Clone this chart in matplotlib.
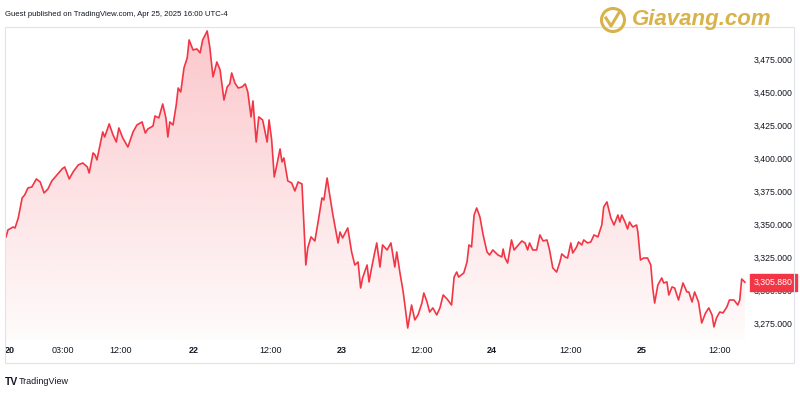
import numpy as np
import matplotlib
matplotlib.use("Agg")
import matplotlib.pyplot as plt
from matplotlib.patches import Rectangle, Ellipse, Polygon
from matplotlib.lines import Line2D
from matplotlib.ticker import FuncFormatter

plt.rcParams['font.family'] = ['Liberation Sans', 'DejaVu Sans']

# gold price, trading hours since session open (Apr 20 - Apr 25, 2025)
hours = [0.0, 0.3, 1.1, 1.4, 1.9, 2.5, 2.9, 3.4, 4.0, 4.7, 5.3, 5.9, 6.5, 7.1, 7.9, 8.7, 9.1, 9.8,
         10.4, 11.2, 11.9, 12.6, 12.9, 13.5, 13.8, 14.1, 15.0, 15.3, 16.0, 16.6, 17.1, 17.5, 18.1,
         18.9, 19.7, 20.3, 21.1, 21.6, 22.0, 22.8, 23.1, 23.7, 24.3, 24.8, 25.1, 25.4, 25.9, 26.4,
         26.7, 27.1, 27.6, 28.1, 28.4, 29.0, 29.6, 30.1, 30.5, 31.2, 31.6, 32.1, 32.7, 33.2, 33.8,
         34.3, 34.7, 35.0, 35.5, 36.0, 36.6, 37.1, 37.5, 38.0, 38.3, 38.8, 39.2, 39.8, 40.5, 40.8,
         41.2, 41.6, 42.0, 42.5, 42.8, 43.1, 43.7, 44.3, 44.8, 45.3, 45.9, 46.5, 46.8, 47.3, 47.9,
         48.4, 49.0, 49.3, 49.8, 50.2, 50.7, 51.5, 51.8, 52.2, 53.0, 53.6, 54.1, 54.6, 55.0, 55.3,
         56.0, 56.3, 56.7, 57.2, 57.5, 58.0, 58.4, 59.1, 59.7, 60.3, 60.6, 61.1, 61.6, 62.0, 62.3,
         62.9, 63.4, 63.9, 64.5, 64.8, 65.3, 65.7, 66.2, 66.8, 67.3, 67.8, 68.4, 69.1, 69.5, 69.9,
         70.2, 71.0, 71.5, 71.8, 72.2, 72.6, 73.0, 73.5, 74.0, 74.6, 75.0, 75.5, 76.3, 76.9, 77.1,
         77.4, 77.8, 78.4, 78.8, 79.2, 80.0, 80.5, 80.9, 81.2, 81.7, 82.3, 82.8, 83.3, 83.9, 84.3,
         84.8, 85.4, 85.9, 86.2, 86.7, 87.1, 87.6, 87.9, 88.5, 88.8, 89.3, 89.6, 90.2, 90.7, 91.2,
         91.8, 92.4, 92.7, 93.2, 93.8, 94.3, 94.9, 95.2, 95.5, 96.0, 96.4, 96.7, 97.2, 97.8, 98.0,
         98.4, 98.9, 99.5, 100.0, 100.3, 100.6, 101.1, 101.7, 102.0, 102.5, 102.8, 103.3, 103.7,
         104.3, 105.0, 105.6, 105.9, 106.4, 106.8, 107.4, 107.9, 108.5, 109.0, 109.5, 109.8, 110.2,
         110.7, 111.2, 111.8, 112.2, 112.9, 113.5, 113.8, 114.1, 114.6]
prices = [3340.2, 3345.5, 3347.7, 3347.0, 3354.6, 3369.7, 3372.0, 3377.3, 3378.0, 3384.1, 3381.8,
          3373.5, 3376.5, 3382.6, 3387.1, 3391.7, 3393.2, 3384.1, 3389.4, 3394.7, 3396.2, 3393.2,
          3388.6, 3403.8, 3402.3, 3398.5, 3419.7, 3415.9, 3425.8, 3417.4, 3412.1, 3422.7, 3415.2,
          3408.3, 3419.7, 3425.0, 3427.3, 3418.9, 3422.0, 3424.2, 3431.8, 3430.3, 3440.9, 3430.3,
          3415.9, 3427.3, 3425.0, 3440.2, 3453.0, 3450.0, 3468.2, 3475.8, 3489.4, 3481.8, 3482.6,
          3479.6, 3489.4, 3496.2, 3484.1, 3461.4, 3472.7, 3466.7, 3443.9, 3453.8, 3456.1, 3464.4,
          3456.8, 3453.0, 3453.8, 3456.1, 3450.0, 3431.1, 3443.2, 3412.1, 3431.1, 3428.8, 3412.1,
          3428.8, 3413.6, 3385.6, 3394.7, 3406.8, 3397.0, 3400.0, 3382.6, 3381.1, 3375.0, 3381.8,
          3380.3, 3318.9, 3331.8, 3340.2, 3337.1, 3351.5, 3369.7, 3368.2, 3384.8, 3372.0, 3356.8,
          3335.6, 3343.9, 3339.4, 3347.0, 3328.8, 3318.9, 3321.2, 3301.5, 3309.1, 3318.9, 3306.1,
          3316.7, 3328.8, 3335.6, 3317.4, 3334.1, 3330.3, 3335.6, 3317.4, 3328.8, 3312.9, 3298.5,
          3283.3, 3271.2, 3288.6, 3277.3, 3281.1, 3290.1, 3297.7, 3290.9, 3283.3, 3286.4, 3281.1,
          3286.4, 3296.2, 3293.2, 3288.6, 3309.8, 3313.6, 3309.8, 3312.9, 3321.2, 3334.1, 3332.6,
          3356.8, 3362.1, 3355.3, 3341.7, 3328.8, 3326.5, 3330.3, 3326.5, 3325.0, 3331.0, 3324.2,
          3320.4, 3337.9, 3330.3, 3332.6, 3337.1, 3335.6, 3330.3, 3335.6, 3330.3, 3330.3, 3341.7,
          3337.1, 3337.9, 3330.3, 3316.7, 3313.6, 3321.2, 3327.3, 3325.0, 3324.2, 3335.6, 3328.0,
          3332.6, 3336.4, 3334.1, 3337.9, 3335.6, 3336.4, 3341.7, 3340.2, 3349.2, 3362.9, 3366.7,
          3354.6, 3349.2, 3356.8, 3351.5, 3356.8, 3351.5, 3346.2, 3351.5, 3347.7, 3349.2, 3343.9,
          3322.7, 3324.2, 3324.2, 3318.9, 3301.5, 3290.1, 3303.8, 3309.1, 3305.3, 3306.1, 3296.2,
          3302.3, 3301.5, 3292.4, 3305.3, 3298.5, 3298.5, 3290.9, 3298.5, 3290.9, 3275.0, 3282.6,
          3286.4, 3281.1, 3272.0, 3278.9, 3283.3, 3282.6, 3287.1, 3292.4, 3292.4, 3288.6, 3292.4,
          3308.3, 3305.88]

tick_hours = [0.5, 8.8, 17.8, 29.1, 41.1, 52.1, 64.5, 75.3, 87.6, 98.6, 110.7]
tick_labels = ["20", "03:00", "12:00", "22", "12:00", "23", "12:00", "24", "12:00", "25", "12:00"]
price_ticks = [3275, 3300, 3325, 3350, 3375, 3400, 3425, 3450, 3475]

red = '#F23645'
txt = '#131722'

fig = plt.figure(figsize=(8, 4), dpi=100)
W, H = 800, 400
ax = fig.add_axes([5 / W, 1 - 340 / H, (752 - 5) / W, (340 - 27) / H])
x0, x1 = -0.16, 115.7
y0, y1 = 3262.1, 3499.2
ax.set_xlim(x0, x1)
ax.set_ylim(y0, y1)

# gradient area under the line
top = max(prices)
ramp = np.linspace(0, 1, 256)
img = np.zeros((256, 1, 4))
img[..., 0] = 242 / 255
img[..., 1] = 54 / 255
img[..., 2] = 69 / 255
img[:, 0, 3] = 0.02 + 0.26 * ramp
im = ax.imshow(img, extent=[x0, x1, y0, top], origin='lower', aspect='auto', zorder=1)
poly = Polygon(list(zip(hours, prices)) + [(hours[-1], y0), (hours[0], y0)],
               closed=True, facecolor='none', edgecolor='none')
ax.add_patch(poly)
im.set_clip_path(poly)

ax.plot(hours, prices, color=red, lw=1.2, zorder=3)

for s in ax.spines.values():
    s.set_visible(False)
ax.yaxis.tick_right()
ax.set_yticks(price_ticks)
ax.yaxis.set_major_formatter(FuncFormatter(lambda v, p: f"{v:,.3f}"))
ax.tick_params(axis='y', length=0, pad=1.5, labelsize=6.3, labelcolor=txt)
ax.set_xticks(tick_hours)
ax.set_xticklabels(tick_labels)
ax.tick_params(axis='x', length=0, pad=4, labelsize=6.5, labelcolor=txt)
for lab in ax.get_xticklabels():
    if ':' not in lab.get_text():
        lab.set_fontweight('bold')

# last price label
ax.annotate(f"{prices[-1]:,.3f}", xy=(1, prices[-1]), xycoords=('axes fraction', 'data'),
            xytext=(1.5, 0), textcoords='offset points', ha='left', va='center',
            fontsize=6.3, color='white', zorder=10, annotation_clip=False,
            bbox=dict(boxstyle='square,pad=0.45', fc=red, ec=red))

# frame
fig.patches.append(Rectangle((5 / W, 1 - 363 / H), (794 - 5) / W, (363 - 27) / H,
                             transform=fig.transFigure, fill=False, ec='#E0E3EB', lw=0.8))

fig.text(5 / W, 1 - 15 / H, "Guest published on TradingView.com, Apr 25, 2025 16:00 UTC-4",
         fontsize=5.6, color=txt, va='center', ha='left')
fig.text(5 / W, 1 - 382 / H, "TV", fontsize=7.5, fontweight='bold', color=txt, va='center')
fig.text(19 / W, 1 - 382 / H, "TradingView", fontsize=6.5, color=txt, va='center')

# Giavang.com logo
gold = '#D8B24A'
fig.patches.append(Ellipse((613 / W, 1 - 20 / H), 23 / W, 23 / H, transform=fig.transFigure,
                           fill=False, ec=gold, lw=2.2))
fig.add_artist(Line2D([606 / W, 611 / W, 620 / W], [1 - 18 / H, 1 - 26 / H, 1 - 11 / H],
                      transform=fig.transFigure, color=gold, lw=2.2))
fig.text(632 / W, 1 - 20 / H, "Giavang.com", fontsize=16, fontweight='bold', style='italic',
         color=gold, ha='left', va='center')

fig.savefig("out.png", dpi=100)
